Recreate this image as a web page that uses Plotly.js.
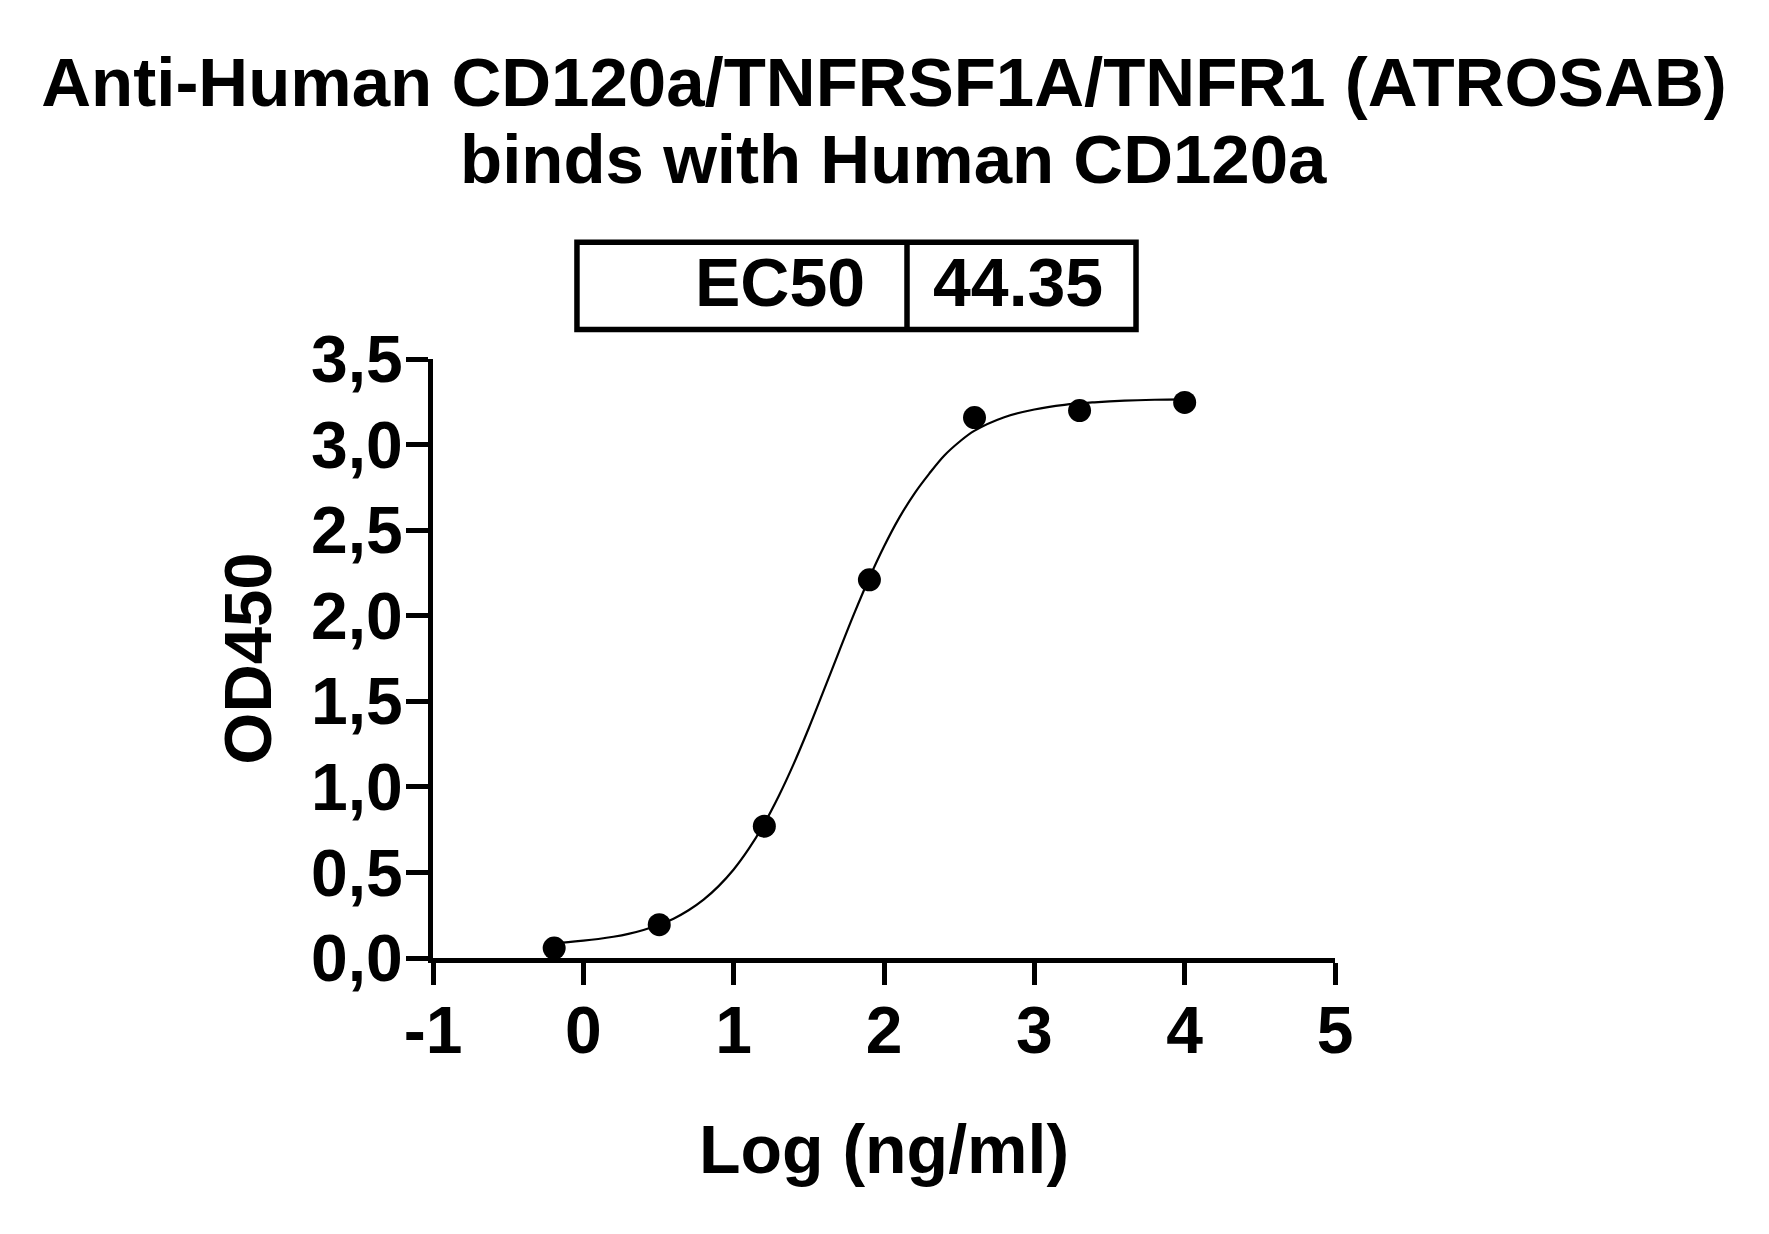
<!DOCTYPE html>
<html><head><meta charset="utf-8">
<script src="https://cdn.plot.ly/plotly-3.0.1.min.js"></script>
<style>html,body{margin:0;padding:0;background:#fff}</style>
</head><body>
<div id="chart" style="width:1769px;height:1234px"></div>
<script>
// Measured points: log10 concentration (ng/ml) vs OD450
const logConc = [-0.194, 0.505, 1.204, 1.903, 2.602, 3.301, 4.0];
const od450 = [0.058, 0.195, 0.770, 2.210, 3.158, 3.199, 3.246];

// Fitted curve
const fitX = [-0.194, -0.1, 0.0, 0.1, 0.2, 0.3, 0.4, 0.5, 0.6, 0.7, 0.8, 0.9, 1.0, 1.1, 1.2, 1.3, 1.4, 1.5, 1.6, 1.7, 1.8, 1.9, 2.0, 2.1, 2.2, 2.3, 2.4, 2.5, 2.6, 2.8, 3.0, 3.2, 3.4, 3.6, 3.8, 4.0];
const fitY = [0.088, 0.093, 0.101, 0.111, 0.124, 0.141, 0.164, 0.193, 0.230, 0.279, 0.341, 0.420, 0.517, 0.637, 0.780, 0.947, 1.136, 1.344, 1.565, 1.789, 2.009, 2.216, 2.404, 2.570, 2.711, 2.829, 2.935, 3.015, 3.080, 3.160, 3.205, 3.232, 3.247, 3.257, 3.262, 3.264];

const xTickVals = [-1, 0, 1, 2, 3, 4, 5];
const xTickText = ['-1', '0', '1', '2', '3', '4', '5'];
const yTickVals = [0, 0.5, 1, 1.5, 2, 2.5, 3, 3.5];
const yTickText = ['0,0', '0,5', '1,0', '1,5', '2,0', '2,5', '3,0', '3,5'];

const titleLines = ['Anti-Human CD120a/TNFRSF1A/TNFR1 (ATROSAB)', 'binds with Human CD120a'];
const xTitle = 'Log (ng/ml)';
const yTitle = 'OD450';
const tableLabel = 'EC50';
const tableValue = '44.35';

const FAM = '"Liberation Sans", Arial, Helvetica, sans-serif';
const bold = (size) => ({family: FAM, size: size, color: '#000', weight: 'bold'});

const traces = [
  {x: fitX, y: fitY, type: 'scatter', mode: 'lines',
   line: {color: '#000', width: 2.2, shape: 'spline'}, hoverinfo: 'skip', showlegend: false},
  {x: logConc, y: od450, type: 'scatter', mode: 'markers', cliponaxis: false,
   marker: {color: '#000', size: 23}, showlegend: false}
];

const layout = {
  width: 1769, height: 1234,
  paper_bgcolor: '#fff', plot_bgcolor: '#fff',
  margin: {l: 433, r: 434, t: 359, b: 276, pad: 0},
  showlegend: false,
  title: {text: titleLines[0], font: bold(69), x: 0.5, xref: 'paper',
          y: 1 - 82 / 1234, yref: 'container', yanchor: 'middle'},
  xaxis: {range: [-1, 5], tickvals: xTickVals, ticktext: xTickText,
          showline: true, linecolor: '#000', linewidth: 5,
          ticks: 'outside', ticklen: 22, tickwidth: 5, tickcolor: '#000',
          ticklabelstandoff: -11,
          showgrid: false, zeroline: false, tickfont: bold(66),
          title: {text: xTitle, font: bold(68), standoff: 61}, fixedrange: true},
  yaxis: {range: [0, 3.5], tickvals: yTickVals, ticktext: yTickText,
          showline: true, linecolor: '#000', linewidth: 5,
          ticks: 'outside', ticklen: 22, tickwidth: 5, tickcolor: '#000',
          ticklabelstandoff: -10,
          showgrid: false, zeroline: false, tickfont: bold(66),
          title: {text: yTitle, font: bold(67), standoff: 19}, fixedrange: true},
  shapes: [
    {type: 'rect', xref: 'paper', yref: 'paper', x0: 0.1596, x1: 0.7794, y0: 1.0493, y1: 1.1947,
     line: {color: '#000', width: 5.5}, fillcolor: 'rgba(0,0,0,0)'},
    {type: 'line', xref: 'paper', yref: 'paper', x0: 0.5255, x1: 0.5255, y0: 1.0493, y1: 1.1947,
     line: {color: '#000', width: 5.5}}
  ],
  annotations: [
    {text: titleLines[1], xref: 'paper', yref: 'paper', x: 0.511, y: 1.3333,
     xanchor: 'center', yanchor: 'middle', showarrow: false, font: bold(69)},
    {text: tableLabel, xref: 'paper', yref: 'paper', x: 0.481, y: 1.1287,
     xanchor: 'right', yanchor: 'middle', showarrow: false, font: bold(68)},
    {text: tableValue, xref: 'paper', yref: 'paper', x: 0.6486, y: 1.1287,
     xanchor: 'center', yanchor: 'middle', showarrow: false, font: bold(68)}
  ]
};

Plotly.newPlot('chart', traces, layout, {displayModeBar: false, staticPlot: true});
</script>
</body></html>
